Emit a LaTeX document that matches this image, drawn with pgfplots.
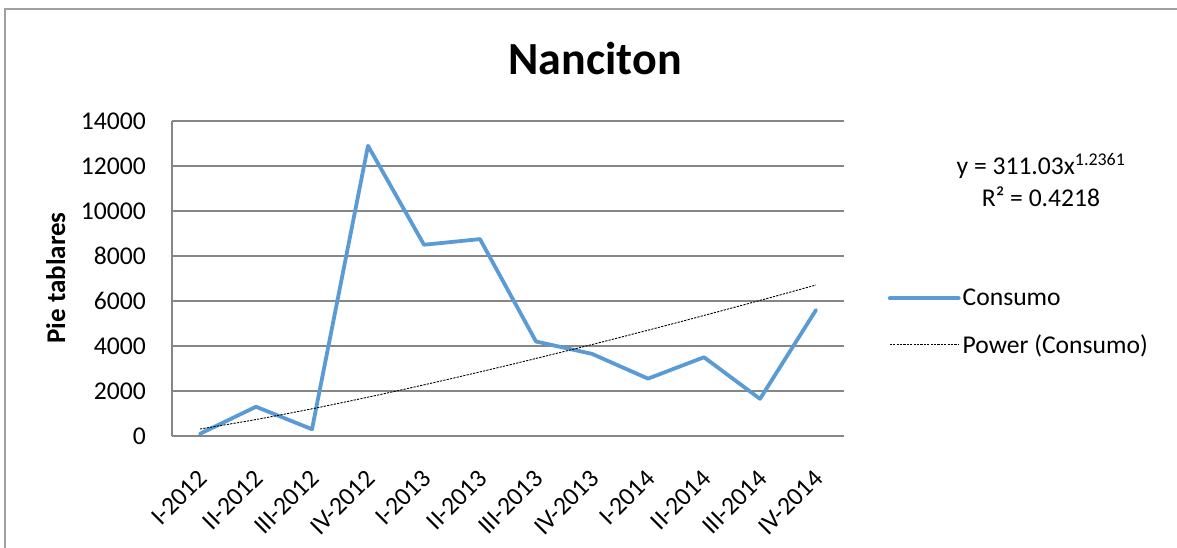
\documentclass[border=0pt]{standalone}
\usepackage{pgfplots}
\pgfplotsset{compat=1.18}
\usepackage{fontspec}
\setmainfont{Carlito}
\definecolor{serieblue}{RGB}{91,155,213}
\definecolor{gridgray}{RGB}{134,134,134}
\definecolor{framegray}{RGB}{160,160,160}

\begin{document}
\begin{tikzpicture}[x=1pt,y=1pt]
\useasboundingbox (0,0) rectangle (1177,-548);
% chart frame
\draw[framegray, line width=1.2pt] (5,-548) -- (5,-9) -- (1177,-9);
% title
\node[font=\fontsize{46}{52}\selectfont\bfseries, anchor=base, inner sep=0pt] at (595,-75) {Nanciton};
% y axis title
\node[font=\fontsize{27}{32}\selectfont\bfseries, rotate=90, anchor=base, inner sep=0pt] at (65,-278) {Pie tablares};
% trendline equation
\node[font=\fontsize{25.6}{30}\selectfont, anchor=base, inner sep=0pt] at (1041,-175) {y = 311.03x\textsuperscript{1.2361}};
\node[font=\fontsize{25.6}{30}\selectfont, anchor=base, inner sep=0pt] at (1041,-207) {R² = 0.4218};

\begin{axis}[
  at={(172pt,-436pt)}, anchor=south west,
  scale only axis, width=672pt, height=315pt,
  xmin=-0.5, xmax=11.5, ymin=0, ymax=14000,
  clip=false,
  axis lines=left,
  axis line style={draw=gridgray, line width=1.2pt, -},
  ymajorgrids, grid style={draw=gridgray, line width=1.2pt},
  major tick length=0pt,
  xtick={0,...,11},
  xticklabels={I-2012,II-2012,III-2012,IV-2012,I-2013,II-2013,III-2013,IV-2013,I-2014,II-2014,III-2014,IV-2014},
  ytick={0,2000,...,14000},
  scaled y ticks=false,
  tick label style={font=\fontsize{25.6}{30}\selectfont},
  /pgf/number format/assume math mode=true,
  /pgf/number format/set thousands separator={},
  yticklabel style={inner sep=0pt, xshift=-26pt},
  xticklabel style={rotate=45, anchor=north east, inner sep=0pt, xshift=-25pt, yshift=-20pt},
  legend style={at={(1.065,0.362)}, anchor=west, draw=none, fill=none, inner sep=0pt,
    font=\fontsize{25.6}{30}\selectfont, row sep=23pt},
  legend cell align=left,
  legend image code/.code={\draw[#1] (0pt,0pt) -- (69pt,0pt);},
]
\addplot[serieblue, line width=3.8pt, line join=round, line cap=round] coordinates {
  (0,100) (1,1300) (2,300) (3,12900) (4,8500) (5,8750)
  (6,4200) (7,3650) (8,2550) (9,3500) (10,1650) (11,5600)
};
\addlegendentry{Consumo}
% power trend y = 311.03 x^1.2361, evaluated at x = 1..12
\addplot[black, line width=0.9pt, dash pattern=on 2.2pt off 1.2pt, smooth] coordinates {
  (0,311.0) (1,732.7) (2,1209.3) (3,1725.9) (4,2274.0) (5,2848.6)
  (6,3446.9) (7,4065.5) (8,4701.8) (9,5356.6) (10,6026.6) (11,6710.5)
};
\addlegendentry{Power (Consumo)}
\end{axis}
\end{tikzpicture}
\end{document}
